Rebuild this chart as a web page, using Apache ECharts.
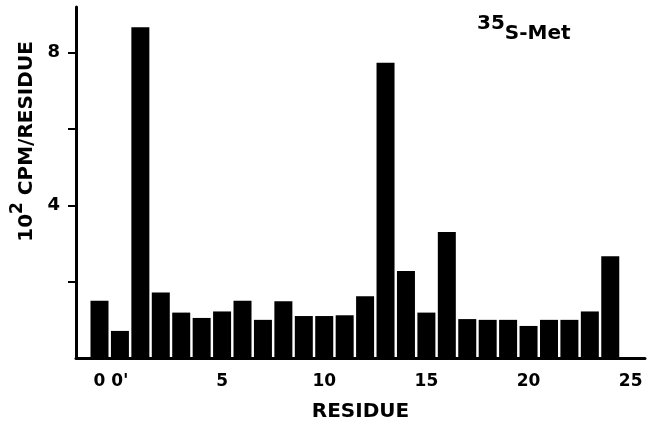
<!DOCTYPE html>
<html>
<head>
<meta charset="utf-8">
<script src="https://cdn.jsdelivr.net/npm/echarts@6/dist/echarts.min.js"></script>
<style>
  html, body { margin: 0; padding: 0; background: #fff; }
  #chart { width: 657px; height: 427px; }
</style>
</head>
<body>
<div id="chart"></div>
<script>
// residue positions (-1 is drawn as "0", 0 as "0'")
const residuePos = [-1, 0, 1, 2, 3, 4, 5, 6, 7, 8, 9, 10, 11, 12, 13, 14, 15, 16, 17, 18, 19, 20, 21, 22, 23, 24]
// 10^2 cpm per residue
const cpm = [1.50, 0.71, 8.67, 1.72, 1.19, 1.05, 1.22, 1.50, 1.00, 1.49, 1.10, 1.10, 1.12, 1.62, 7.74, 2.28, 1.19, 3.30, 1.02, 1.00, 1.00, 0.84, 1.00, 1.00, 1.22, 2.67]

const xTickPos = [-1, 0, 5, 10, 15, 20, 25]
const xTickText = ['0', "0'", '5', '10', '15', '20', '25']
const yTickPos = [2, 4, 6, 8]
const yLabelPos = [4, 8]

const FONT = 'DejaVu Sans'

let chart = echarts.init(document.getElementById('chart'))
chart.setOption({
  animation: false,
  title: {
    text: '{sup|35}{main|S-Met}',
    left: 472,
    top: 9,
    textStyle: {
      rich: {
        sup: { fontFamily: FONT, fontWeight: 'bold', fontSize: 20, color: '#000', verticalAlign: 'bottom', padding: [0, 0, 10, 0] },
        main: { fontFamily: FONT, fontWeight: 'bold', fontSize: 20, color: '#000', verticalAlign: 'bottom' }
      }
    }
  },
  grid: { left: 76, right: 12, top: 7, bottom: 63 },
  xAxis: {
    type: 'value',
    min: -2.15,
    max: 25.7,
    name: 'RESIDUE',
    nameLocation: 'middle',
    nameGap: 44,
    nameTextStyle: { fontFamily: FONT, fontWeight: 'bold', fontSize: 20, color: '#000' },
    splitLine: { show: false },
    axisLine: { onZero: false, lineStyle: { color: '#000', width: 3 } },
    axisTick: { show: false },
    axisLabel: {
      customValues: xTickPos,
      margin: 8,
      formatter: function (v) {
        let t = xTickText[xTickPos.indexOf(v)]
        if (t === "0'") return '{a|0}{p|\'}'
        return '{a|' + t + '}'
      },
      rich: {
        a: { fontFamily: FONT, fontWeight: 'bold', fontSize: 17, lineHeight: 24, color: '#000', verticalAlign: 'bottom' },
        p: { fontFamily: FONT, fontWeight: 'bold', fontSize: 18, lineHeight: 24, color: '#000', verticalAlign: 'bottom' }
      }
    }
  },
  yAxis: {
    type: 'value',
    min: 0,
    max: 9.2,
    name: '{a|10}{sup|2}{a| CPM/RESIDUE}',
    nameLocation: 'middle',
    nameGap: 38,
    nameTextStyle: {
      padding: [0, 0, 0, 82],
      rich: {
        a: { fontFamily: FONT, fontWeight: 'bold', fontSize: 20, color: '#000', verticalAlign: 'bottom' },
        sup: { fontFamily: FONT, fontWeight: 'bold', fontSize: 17, color: '#000', verticalAlign: 'bottom', padding: [0, 0, 10, 0] }
      }
    },
    splitLine: { show: false },
    axisLine: { show: true, onZero: false, lineStyle: { color: '#000', width: 3 } },
    axisTick: { show: true, customValues: yTickPos, length: 8, lineStyle: { color: '#000', width: 2 } },
    axisLabel: {
      customValues: yLabelPos,
      margin: 16,
      fontFamily: FONT,
      fontWeight: 'bold',
      fontSize: 18,
      color: '#000'
    }
  },
  series: [{
    type: 'bar',
    barWidth: 18,
    itemStyle: { color: '#000' },
    data: residuePos.map((p, i) => [p, cpm[i]])
  }]
})
</script>
</body>
</html>
